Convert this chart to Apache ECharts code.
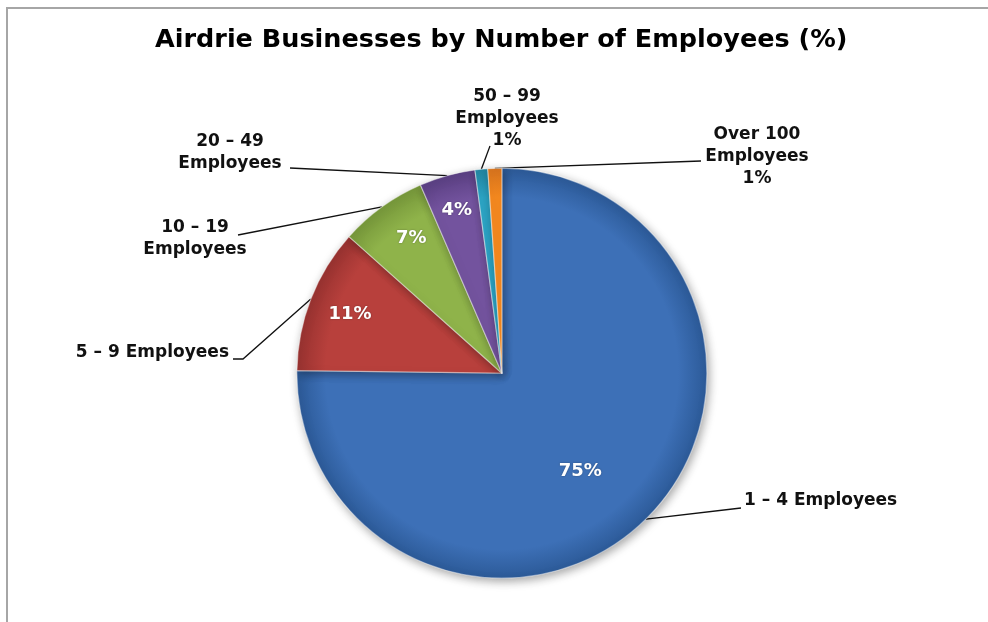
<!DOCTYPE html>
<html>
<head>
<meta charset="utf-8">
<script src="https://cdn.jsdelivr.net/npm/echarts@6/dist/echarts.min.js"></script>
<style>
html,body{margin:0;padding:0;background:#fff;}
#chart{width:988px;height:622px;}
</style>
</head>
<body>
<div id="chart"></div>
<script>
// ---- data ----
const categories = ['1 – 4 Employees', '5 – 9 Employees', '10 – 19 Employees', '20 – 49 Employees', '50 – 99 Employees', 'Over 100 Employees'];
const shares = [75.2, 11.4, 6.9, 4.4, 1.0, 1.1];
const labelLines = [['1 – 4 Employees'], ['5 – 9 Employees'], ['10 – 19', 'Employees'], ['20 – 49', 'Employees'], ['50 – 99', 'Employees'], ['Over 100', 'Employees']];
const colors = ['#3d70b7', '#b8403c', '#8fb34a', '#73539e', '#2ca5c6', '#f5891f'];
const darkColors = ['#2c5a98', '#983230', '#76973a', '#5a3f82', '#2386a2', '#d8741e'];

// ---- layout ----
const W = 988, H = 622;
const CX = 0.508 * W, CY = 0.6 * H, R = 205;
// label anchor positions and guide-line ends (layout only)
const outerLayout = [
  { x: 744, y: 501, align: 'left',   elbow: [741, 508], end: [741, 508] },
  { x: 229, y: 353, align: 'right',  elbow: [243, 359], end: [233, 359] },
  { x: 195, y: 239, align: 'center', elbow: [238, 235], end: [238, 235] },
  { x: 230, y: 153, align: 'center', elbow: [290, 168], end: [290, 168] },
  { x: 507, y: 119, align: 'center', elbow: [490, 146], end: [490, 146] },
  { x: 757, y: 157, align: 'center', elbow: [701, 161], end: [701, 161] }
];
const innerRadiusFactor = [0.77, 1, 1, 1.04, 1, 1];
const innerAngleShift = [6, 0, 2, 0, 0, 0]; // degrees, clockwise

const pct = v => Math.round(v) + '%';

const chart = echarts.init(document.getElementById('chart'), null, { renderer: 'canvas' });

const baseData = categories.map((c, i) => ({
  name: c,
  value: shares[i],
  itemStyle: {
    color: {
      type: 'radial', x: CX, y: CY, r: R, global: true,
      colorStops: [
        { offset: 0, color: colors[i] },
        { offset: 0.86, color: colors[i] },
        { offset: 1, color: darkColors[i] }
      ]
    }
  }
}));

const option = {
  backgroundColor: '#ffffff',
  animation: false,
  title: {
    text: 'Airdrie Businesses by Number of Employees (%)',
    left: 150,
    top: 22,
    textStyle: { fontFamily: 'DejaVu Sans', fontWeight: 'bold', fontSize: 25.5, color: '#000' }
  },
  graphic: [{
    type: 'rect', silent: true,
    shape: { x: 7, y: 8, width: 1000, height: 700 },
    style: { fill: 'none', stroke: '#a6a6a6', lineWidth: 2 }
  }],
  series: [
    {
      type: 'pie',
      center: [CX, CY],
      radius: [0, R],
      startAngle: 90,
      clockwise: true,
      avoidLabelOverlap: false,
      itemStyle: {
        borderColor: 'rgba(255,255,255,0.45)',
        borderWidth: 1.2,
        shadowBlur: 10,
        shadowColor: 'rgba(0,0,0,0.35)',
        shadowOffsetX: 2,
        shadowOffsetY: 3
      },
      label: {
        show: true,
        position: 'outside',
        fontFamily: 'DejaVu Sans',
        fontWeight: 'bold',
        fontSize: 17,
        lineHeight: 22,
        color: '#111',
        align: 'center',
        formatter: p => {
          const lines = labelLines[p.dataIndex].slice();
          if (shares[p.dataIndex] < 2) lines.push(pct(shares[p.dataIndex]));
          return lines.join('\n');
        }
      },
      labelLine: { show: true, length: 10, length2: 10, lineStyle: { color: '#111', width: 1.3 } },
      labelLayout: params => {
        const L = outerLayout[params.dataIndex];
        const start = params.labelLinePoints ? params.labelLinePoints[0] : L.elbow;
        return {
          x: L.x, y: L.y, align: L.align, verticalAlign: 'middle',
          labelLinePoints: [start, L.elbow, L.end]
        };
      },
      emphasis: { disabled: true },
      data: baseData
    },
    {
      type: 'pie',
      center: [CX, CY],
      radius: [0.56 * R, R],
      startAngle: 90,
      clockwise: true,
      silent: true,
      avoidLabelOverlap: false,
      itemStyle: { color: 'rgba(0,0,0,0)' },
      label: {
        show: true,
        position: 'inside',
        fontFamily: 'DejaVu Sans',
        fontWeight: 'bold',
        fontSize: 18,
        color: '#ffffff',
        textShadowColor: 'rgba(0,0,0,0.35)',
        textShadowBlur: 2,
        formatter: p => shares[p.dataIndex] >= 2 ? pct(shares[p.dataIndex]) : ''
      },
      labelLine: { show: false },
      labelLayout: params => {
        const r = params.labelRect;
        const mx = r.x + r.width / 2, my = r.y + r.height / 2;
        const i = params.dataIndex;
        const f = innerRadiusFactor[i];
        const a = innerAngleShift[i] * Math.PI / 180;
        const dx = (mx - CX) * f, dy = (my - CY) * f;
        return {
          x: CX + dx * Math.cos(a) - dy * Math.sin(a),
          y: CY + dx * Math.sin(a) + dy * Math.cos(a),
          align: 'center', verticalAlign: 'middle'
        };
      },
      emphasis: { disabled: true },
      data: categories.map((c, i) => ({ name: c, value: shares[i] }))
    }
  ]
};
chart.setOption(option);
</script>
</body>
</html>
